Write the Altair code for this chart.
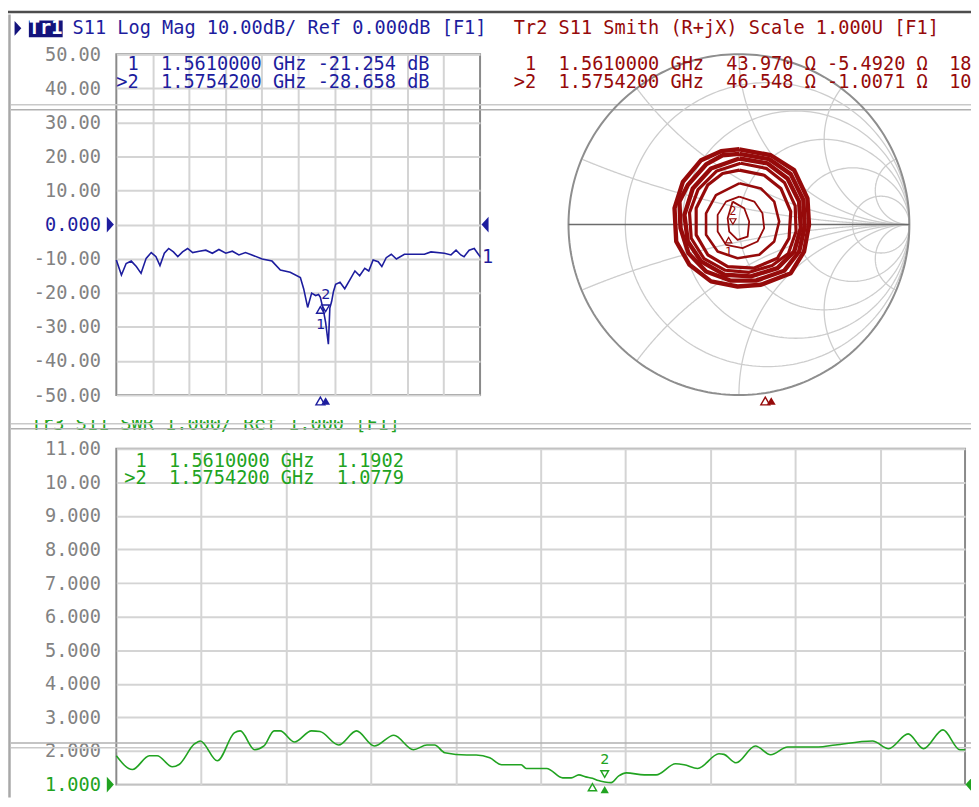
import altair as alt
import numpy as np
import pandas as pd

FONT = "DejaVu Sans Mono"
BLUE = "#1d1d9e"
NAVY = "#13137c"
RED = "#960a0a"
GREEN = "#21a321"
GRID = "#d4d4d4"
SGRID = "#cdcdcd"
TICK = "#828282"
FRAME = "#8a8a8a"
SEP1 = "#c9c9c9"
SEP2 = "#b0b0b0"
FS = 18.7
CW = FS * 0.602          # character cell width of the mono font
NB = "\u00a0"

W1, H1 = 366, 343
W2, H2 = 343, 343
W3, H3 = 854, 338
X1, Y1 = 117, 52
X2, Y2 = 572, 52
X3, Y3 = 117, 449
SVG_W, SVG_H = 969, 790   # drawn area of the page (starts at the 8px body margin)

# ---------------- data ----------------
lm_freq = [1.000, 1.014, 1.027, 1.041, 1.055, 1.068, 1.082, 1.096, 1.109, 1.120,
           1.132, 1.144, 1.157, 1.169, 1.182, 1.196, 1.210, 1.228, 1.246, 1.264,
           1.282, 1.301, 1.319, 1.337, 1.355, 1.373, 1.401, 1.428, 1.451, 1.478,
           1.506, 1.515, 1.526, 1.537, 1.548, 1.556, 1.561, 1.570, 1.5754, 1.583,
           1.587, 1.592, 1.597, 1.603, 1.615, 1.628, 1.642, 1.656, 1.669, 1.683,
           1.694, 1.706, 1.720, 1.730, 1.742, 1.756, 1.770, 1.792, 1.847, 1.865,
           1.902, 1.920, 1.934, 1.947, 1.956, 1.970, 1.984, 2.000]
lm_db = [-10.4, -14.8, -11.4, -10.7, -12.3, -14.3, -9.9, -8.2, -9.4, -12.0,
         -8.4, -7.0, -8.0, -9.4, -8.0, -7.0, -8.2, -7.8, -7.5, -8.4,
         -7.3, -8.4, -7.8, -8.9, -8.2, -8.9, -10.1, -10.7, -13.3, -14.0,
         -15.5, -18.8, -24.3, -20.1, -20.8, -20.5, -21.3, -25.5, -28.7, -35.1,
         -24.5, -22.5, -19.6, -17.5, -16.9, -18.8, -16.2, -13.6, -15.0, -12.8,
         -13.6, -10.4, -10.9, -12.3, -9.7, -8.7, -10.1, -8.7, -8.7, -8.0,
         -8.4, -8.9, -7.5, -8.9, -9.4, -7.5, -7.0, -9.4]

swr_freq = [1.000, 1.019, 1.039, 1.048, 1.066, 1.074, 1.092, 1.099, 1.119, 1.139,
            1.146, 1.163, 1.174, 1.186, 1.193, 1.210, 1.230, 1.240, 1.262, 1.283,
            1.304, 1.327, 1.350, 1.366, 1.375, 1.387, 1.413, 1.424, 1.440, 1.454,
            1.477, 1.483, 1.507, 1.526, 1.536, 1.545, 1.553, 1.561, 1.568, 1.5754,
            1.583, 1.592, 1.601, 1.622, 1.636, 1.659, 1.669, 1.685, 1.710, 1.716,
            1.730, 1.753, 1.771, 1.791, 1.827, 1.847, 1.891, 1.910, 1.933, 1.951,
            1.974, 1.994, 2.000]
swr_val = [1.86, 1.45, 1.86, 1.86, 1.53, 1.60, 2.21, 2.30, 1.71, 2.54,
           2.60, 2.04, 2.15, 2.60, 2.60, 2.27, 2.60, 2.58, 2.18, 2.60,
           2.15, 2.47, 2.04, 2.18, 2.18, 1.95, 1.88, 1.88, 1.80, 1.59,
           1.59, 1.48, 1.48, 1.20, 1.20, 1.29, 1.23, 1.19, 1.12, 1.08,
           1.06, 1.26, 1.35, 1.29, 1.29, 1.62, 1.59, 1.48, 1.92, 1.90,
           1.65, 2.15, 1.89, 2.12, 2.12, 2.18, 2.30, 2.07, 2.51, 2.07,
           2.63, 2.04, 2.04]

mk_label = [" 1", ">2"]
mk_freq = [1.5610000, 1.5754200]
mk_db = [-21.254, -28.658]
mk_swr = [1.1902, 1.0779]
mk_res = [43.970, 46.548]
mk_rea = [-5.4920, -1.0071]
mk_tail = ["18", "10"]

# Smith chart loops (reflection coefficient, re/im)
ring_1 = [(0.002, 0.442), (0.187, 0.407), (0.324, 0.320), (0.402, 0.154), (0.411, -0.002),
          (0.382, -0.158), (0.304, -0.285), (0.129, -0.353), (-0.008, -0.363), (-0.164, -0.333),
          (-0.290, -0.236), (-0.368, -0.099), (-0.378, 0.096), (-0.329, 0.251), (-0.222, 0.378),
          (-0.105, 0.431)]
ring_1b = [(0.002, 0.415), (0.177, 0.384), (0.304, 0.296), (0.378, 0.144), (0.386, -0.012),
           (0.353, -0.158), (0.265, -0.271), (0.099, -0.329), (-0.047, -0.329), (-0.193, -0.275),
           (-0.296, -0.168), (-0.343, -0.021), (-0.349, 0.135), (-0.300, 0.232), (-0.193, 0.353),
           (-0.096, 0.407)]
ring_2 = [(0.002, 0.388), (0.168, 0.359), (0.285, 0.271), (0.353, 0.135), (0.363, -0.021),
          (0.324, -0.158), (0.226, -0.255), (0.070, -0.304), (-0.086, -0.294), (-0.222, -0.216),
          (-0.300, -0.099), (-0.320, 0.057), (-0.271, 0.212), (-0.164, 0.329)]
ring_2b = [(0.010, 0.360), (0.160, 0.330), (0.268, 0.245), (0.330, 0.110), (0.335, -0.040),
           (0.290, -0.170), (0.195, -0.240), (0.060, -0.280), (-0.080, -0.268), (-0.205, -0.200),
           (-0.280, -0.080), (-0.290, 0.070), (-0.240, 0.205), (-0.130, 0.315)]
ring_3 = [(0.002, 0.320), (0.148, 0.290), (0.246, 0.212), (0.304, 0.076), (0.294, -0.080),
          (0.226, -0.197), (0.090, -0.255), (-0.066, -0.246), (-0.183, -0.177), (-0.251, -0.060),
          (-0.251, 0.096), (-0.183, 0.232), (-0.096, 0.300)]
ring_4 = [(0.002, 0.242), (0.129, 0.212), (0.207, 0.135), (0.236, 0.018), (0.207, -0.099),
          (0.119, -0.177), (-0.008, -0.197), (-0.125, -0.158), (-0.193, -0.060), (-0.193, 0.066),
          (-0.135, 0.173)]
ring_5 = [(0.002, 0.164), (0.090, 0.135), (0.138, 0.066), (0.148, -0.021), (0.109, -0.099),
          (0.021, -0.138), (-0.076, -0.119), (-0.125, -0.041), (-0.125, 0.057), (-0.076, 0.135)]
ring_6 = [(-0.037, 0.135), (0.031, 0.096), (0.060, 0.018), (0.051, -0.070), (-0.008, -0.090),
          (-0.057, -0.041), (-0.066, 0.037)]

lm_ticks = list(range(-50, 51, 10))
swr_ticks = list(range(1, 12))
grid_f = [round(1.0 + 0.1 * i, 2) for i in range(1, 10)]
smith_r = [0.2, 0.5, 1.0, 2.0, 5.0]
smith_x = [0.2, 0.5, 1.0, 2.0, 5.0]

# ---------------- helpers ----------------
ONE = pd.DataFrame({"k": [0]})
TRI_R = "M-0.45,-1L0.45,0L-0.45,1Z"
TRI_L = "M0.45,-1L-0.45,0L0.45,1Z"
LBL = ("datum.value == 0 ? '0.000' : "
       "(datum.value < 0 ? '-' : '') + format(abs(datum.value), '.4r')")


def txt(s, x, y, color, size=FS, weight="normal"):
    lead = len(s) - len(s.lstrip(" "))
    s = s.lstrip(" ").replace(" ", NB)
    return alt.Chart(pd.DataFrame({"t": [s]})).mark_text(
        align="left", baseline="alphabetic", font=FONT, fontSize=size,
        fontWeight=weight, color=color).encode(
        x=alt.value(x + lead * CW), y=alt.value(y), text="t:N")


def hrule(x1, x2, y, color, w=1.5):
    return alt.Chart(ONE).mark_rule(color=color, strokeWidth=w).encode(
        x=alt.value(x1), x2=alt.value(x2), y=alt.value(y))


def vrule(x, y1, y2, color, w=1.5):
    return alt.Chart(ONE).mark_rule(color=color, strokeWidth=w).encode(
        x=alt.value(x), y=alt.value(y1), y2=alt.value(y2))


def box(x1, x2, y1, y2, color):
    return alt.Chart(ONE).mark_rect(color=color).encode(
        x=alt.value(x1), x2=alt.value(x2), y=alt.value(y1), y2=alt.value(y2))


def glyph(shape, x, y, color, size, filled=True):
    return alt.Chart(ONE).mark_point(shape=shape, filled=filled, color=color, size=size,
                                     opacity=1, strokeWidth=1.4).encode(
        x=alt.value(x), y=alt.value(y))


def yaxis(values, zero_value, zero_color):
    return alt.Axis(values=values, labelExpr=LBL, labelFont=FONT, labelFontSize=FS,
                    labelColor={"condition": {"test": f"datum.value == {zero_value}",
                                              "value": zero_color}, "value": TICK},
                    labelPadding=16, ticks=False, tickSize=0, domain=False, title=None,
                    grid=True, gridColor=GRID, gridWidth=2, labelFlush=False,
                    labelOverlap=False)


xgrid = alt.Axis(values=grid_f, labels=False, ticks=False, domain=False, title=None,
                 grid=True, gridColor=GRID, gridWidth=2)

mk_df = pd.DataFrame({"f": mk_freq, "db": mk_db, "swr": mk_swr, "n": ["1", "2"]})
m1 = mk_df.iloc[[0]]
m2 = mk_df.iloc[[1]]

# ---------------- panel 1: log mag ----------------
def p1(px):
    return px - X1


def q1(py):
    return py - Y1


xs1 = alt.Scale(domain=[1.0, 2.0], nice=False, zero=False)
ys1 = alt.Scale(domain=[-50, 50], nice=False, zero=False)
X1ENC = alt.X("f:Q", scale=xs1, axis=xgrid)
Y1ENC = alt.Y("db:Q", scale=ys1, axis=yaxis(lm_ticks, 0, BLUE))
e1 = dict(x=X1ENC, y=Y1ENC)

lm_df = pd.DataFrame({"f": lm_freq, "db": lm_db})
trace1 = alt.Chart(lm_df).mark_line(color=BLUE, strokeWidth=1.6).encode(**e1)

zero1 = pd.DataFrame({"db": [0.0]})
end1 = pd.DataFrame({"db": [lm_db[-1]], "t": ["1"]})

lm_layers = [
    hrule(p1(8), p1(980), q1(9.5), "#4d4d4d", 2.5),
    vrule(p1(9.5), q1(12), q1(800), "#a8a8a8", 2.5),
    hrule(p1(11), p1(980), q1(103), SEP1, 1.5),
    hrule(p1(11), p1(980), q1(108), SEP2, 1.5),
    trace1,
    alt.Chart(m2).mark_point(shape="triangle-down", filled=False, color=BLUE, size=60,
                             strokeWidth=1.4, opacity=1, yOffset=-14).encode(**e1),
    alt.Chart(m2).mark_text(font=FONT, fontSize=15, color=BLUE, dy=-28).encode(**e1, text="n:N"),
    alt.Chart(m1).mark_point(shape="triangle-up", filled=False, color=BLUE, size=60,
                             strokeWidth=1.4, opacity=1, yOffset=13).encode(**e1),
    alt.Chart(m1).mark_text(font=FONT, fontSize=15, color=BLUE, dy=27).encode(**e1, text="n:N"),
    alt.Chart(m1).mark_point(shape="triangle-up", filled=False, color=BLUE, size=80,
                             strokeWidth=1.4, opacity=1).encode(x=X1ENC, y=alt.value(H1 + 6)),
    alt.Chart(m2).mark_point(shape="triangle-up", filled=True, color=BLUE, size=80,
                             opacity=1).encode(x=X1ENC, y=alt.value(H1 + 6)),
    alt.Chart(zero1).mark_point(shape=TRI_R, filled=True, color=BLUE, size=250, opacity=1).encode(
        x=alt.value(-6), y=Y1ENC),
    alt.Chart(zero1).mark_point(shape=TRI_L, filled=True, color=BLUE, size=250, opacity=1).encode(
        x=alt.value(W1 + 5), y=Y1ENC),
    alt.Chart(end1).mark_text(align="left", font=FONT, fontSize=FS, color=BLUE).encode(
        x=alt.value(W1 + 2), y=Y1ENC, text="t:N"),
    glyph(TRI_R, p1(18), q1(26), NAVY, 225),
    box(p1(29), p1(63), q1(18), q1(35), NAVY),
    txt("Tr1", p1(29), q1(32), "white", weight="bold"),
    txt("S11 Log Mag 10.00dB/ Ref 0.000dB [F1]", p1(73), q1(32), BLUE),
]
for i in range(2):
    s = f"{mk_label[i]}  {mk_freq[i]:.7f} GHz {mk_db[i]:.3f} dB"
    lm_layers.append(txt(s, p1(117), q1(68 + 18 * i), BLUE))

lm_chart = alt.layer(*lm_layers).properties(width=W1, height=H1)

# ---------------- panel 2: Smith chart ----------------
def p2(px):
    return px - X2


def q2(py):
    return py - Y2


rows = []
t = np.linspace(0, 2 * np.pi, 241)
for r in smith_r:
    c, rad = r / (1 + r), 1 / (1 + r)
    for i, tt in enumerate(t):
        rows.append((f"r{r}", i, c + rad * np.cos(tt), rad * np.sin(tt)))
for xv in smith_x:
    rad = 1 / xv
    th = np.linspace(-np.pi / 2, -3 * np.pi / 2, 3001)
    pts = [(1 + rad * np.cos(a), 1 / xv + rad * np.sin(a)) for a in th]
    pts = [p for p in pts if p[0] ** 2 + p[1] ** 2 <= 1.0000001]
    for sign in (1, -1):
        for i, (a, b) in enumerate(pts):
            rows.append((f"x{sign * xv}", i, a, sign * b))
grid_df = pd.DataFrame(rows, columns=["c", "i", "re", "im"])
rim_df = pd.DataFrame({"i": range(len(t)), "re": np.cos(t), "im": np.sin(t)})

ring_rows = []
for name, ring in [("1", ring_1), ("1b", ring_1b), ("2", ring_2), ("2b", ring_2b),
                   ("3", ring_3), ("4", ring_4), ("5", ring_5), ("6", ring_6)]:
    for i, (a, b) in enumerate(ring + [ring[0]]):
        ring_rows.append((name, i, a, b))
ring_df = pd.DataFrame(ring_rows, columns=["c", "i", "re", "im"])


def gamma(r, x):
    z = complex(r, x) / 50.0
    g = (z - 1) / (z + 1)
    return g.real, g.imag


g_pts = [gamma(mk_res[i], mk_rea[i]) for i in range(2)]
smk = pd.DataFrame({"re": [g[0] for g in g_pts], "im": [g[1] for g in g_pts], "n": ["1", "2"]})

xs2 = alt.Scale(domain=[-1, 1], nice=False, zero=False)
ys2 = alt.Scale(domain=[-1, 1], nice=False, zero=False)
e2 = dict(x=alt.X("re:Q", scale=xs2, axis=None), y=alt.Y("im:Q", scale=ys2, axis=None))


def rings(names, width):
    expr = "indexof([" + ",".join(f"'{n}'" for n in names) + "], datum.c) >= 0"
    return alt.Chart(ring_df).transform_filter(expr).mark_line(
        color=RED, strokeWidth=width, strokeJoin="round").encode(**e2, detail="c:N", order="i:Q")


sm_layers = [
    alt.Chart(grid_df).mark_line(color=SGRID, strokeWidth=1.3).encode(
        **e2, detail="c:N", order="i:Q"),
    alt.Chart(rim_df).mark_line(color="#8e8e8e", strokeWidth=2).encode(**e2, order="i:Q"),
    alt.Chart(pd.DataFrame({"re": [-1.0], "b": [1.0], "im": [0.0]})).mark_rule(
        color="#6c6c6c", strokeWidth=1.5).encode(**e2, x2="b:Q"),
    rings(["1", "1b", "2"], 4.4),
    rings(["2b", "3"], 3.2),
    rings(["4"], 2.6),
    rings(["5", "6"], 1.8),
    alt.Chart(smk.iloc[[1]]).mark_point(shape="triangle-down", filled=False, color=RED, size=40,
                                         strokeWidth=1.2, opacity=1, yOffset=-5).encode(**e2),
    alt.Chart(smk.iloc[[1]]).mark_text(font=FONT, fontSize=12, color=RED, dy=-16).encode(**e2, text="n:N"),
    alt.Chart(smk.iloc[[0]]).mark_point(shape="triangle-up", filled=False, color=RED, size=40,
                                         strokeWidth=1.2, opacity=1, yOffset=5).encode(**e2),
    alt.Chart(smk.iloc[[0]]).mark_text(font=FONT, fontSize=12, color=RED, dy=17).encode(**e2, text="n:N"),
    glyph("triangle-up", p2(770), q2(401), RED, 80, filled=False),
    glyph("triangle-up", p2(776), q2(401), RED, 80, filled=True),
    txt("Tr2 S11 Smith (R+jX) Scale 1.000U [F1]", p2(517), q2(32), RED),
]
for i in range(2):
    s = f"{mk_label[i]}  {mk_freq[i]:.7f} GHz  {mk_res[i]:.3f} Ω {mk_rea[i]:.4f} Ω"
    sm_layers.append(txt(s, p2(517), q2(68 + 18 * i), RED))
    sm_layers.append(txt(mk_tail[i], p2(955), q2(68 + 18 * i), RED))

sm_chart = alt.layer(*sm_layers).properties(
    width=W2, height=H2, view=alt.ViewBackground(stroke="transparent", strokeWidth=0))

# ---------------- panel 3: SWR ----------------
def p3(px):
    return px - X3


def q3(py):
    return py - Y3


xs3 = alt.Scale(domain=[1.0, 2.0], nice=False, zero=False)
ys3 = alt.Scale(domain=[1, 11], nice=False, zero=False)
X3ENC = alt.X("f:Q", scale=xs3, axis=xgrid)
Y3ENC = alt.Y("swr:Q", scale=ys3, axis=yaxis(swr_ticks, 1, GREEN))
e3 = dict(x=X3ENC, y=Y3ENC)

swr_df = pd.DataFrame({"f": swr_freq, "swr": swr_val})
trace3 = alt.Chart(swr_df).mark_line(color=GREEN, strokeWidth=1.6,
                                     interpolate="monotone").encode(**e3)
one3 = pd.DataFrame({"swr": [1.0]})

swr_layers = [
    txt("Tr3 S11 SWR 1.000/ Ref 1.000 [F1]", p3(31), q3(430), GREEN),
    box(p3(20), p3(440), q3(410), q3(420), "white"),
    hrule(p3(11), p3(980), q3(424), SEP1, 1.5),
    hrule(p3(11), p3(980), q3(429), SEP2, 1.5),
    hrule(p3(11), p3(980), q3(745), SEP2, 1.5),
    hrule(p3(11), p3(980), q3(750), SEP1, 1.5),
    trace3,
    alt.Chart(m2).mark_point(shape="triangle-down", filled=False, color=GREEN, size=60,
                             strokeWidth=1.4, opacity=1, yOffset=-8).encode(**e3),
    alt.Chart(m2).mark_text(font=FONT, fontSize=15, color=GREEN, dy=-23).encode(**e3, text="n:N"),
    alt.Chart(m1).mark_point(shape="triangle-up", filled=False, color=GREEN, size=70,
                             strokeWidth=1.4, opacity=1, yOffset=9).encode(**e3),
    alt.Chart(m2).mark_point(shape="triangle-up", filled=True, color=GREEN, size=70,
                             opacity=1).encode(x=X3ENC, y=alt.value(H3 + 5)),
    alt.Chart(one3).mark_point(shape=TRI_R, filled=True, color=GREEN, size=250, opacity=1).encode(
        x=alt.value(-6), y=Y3ENC),
    alt.Chart(one3).mark_point(shape=TRI_L, filled=True, color=GREEN, size=250, opacity=1).encode(
        x=alt.value(W3 + 4), y=Y3ENC),
]
for i in range(2):
    s = f"{mk_label[i]}  {mk_freq[i]:.7f} GHz  {mk_swr[i]:.4f}"
    swr_layers.append(txt(s, p3(125), q3(467 + 18 * i), GREEN))

swr_chart = alt.layer(*swr_layers).properties(width=W3, height=H3)

# ---------------- assemble ----------------
# left column (log mag over SWR); the Smith panel is placed beside it
left_col = alt.vconcat(lm_chart, swr_chart, spacing=Y3 - (Y1 + H1), bounds="flush")
pad_l, pad_t = X1 - 8, Y1 - 8
chart = alt.hconcat(left_col, sm_chart, spacing=X2 - X1, bounds="flush").properties(
    autosize=alt.AutoSizeParams(type="none"),
    padding={"left": pad_l, "top": pad_t, "right": SVG_W - pad_l, "bottom": SVG_H - pad_t},
    background="white",
).configure_view(stroke=FRAME, strokeWidth=2)

chart.save("out.html", embed_options={"renderer": "svg", "actions": False})
